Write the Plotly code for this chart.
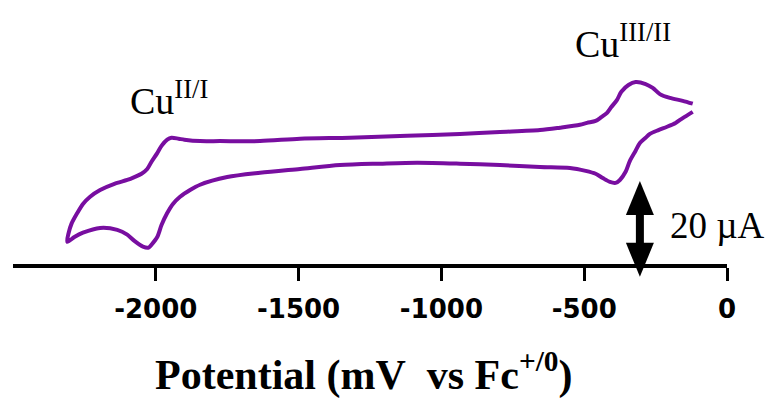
import plotly.graph_objects as go

# ---- data (potential in mV vs Fc+/0, current in µA, arbitrary offset) ----
potential_upper = [-120, -155, -200, -235, -260, -285, -320, -345, -370, -385, -405, -420, -440, -460,
                   -490, -515, -585, -655, -795, -935, -1120, -1320, -1495, -1635, -1775, -1845, -1900,
                   -1920, -1945, -1960, -1980, -1995, -2015, -2030, -2050, -2075, -2100, -2145, -2195,
                   -2230, -2255, -2275, -2295, -2305, -2310]
current_upper = [33.8, 34.4, 35.0, 35.8, 37.1, 37.9, 38.3, 37.7, 36.3, 34.6, 33.1, 31.9, 31.0, 30.2,
                 29.8, 29.4, 28.8, 28.3, 27.9, 27.5, 27.1, 26.7, 26.5, 26.0, 26.0, 26.0, 26.3,
                 26.5, 26.7, 26.3, 25.0, 23.5, 21.7, 20.2, 19.2, 18.5, 17.9, 17.1, 15.8,
                 14.4, 12.9, 11.0, 8.8, 6.9, 5.0]
potential_lower = [-2285, -2255, -2195, -2135, -2100, -2075, -2045, -2025, -2015, -1995, -1980, -1960,
                   -1940, -1915, -1880, -1845, -1750, -1635, -1495, -1355, -1215, -1085, -935, -795,
                   -655, -550, -495, -460, -435, -410, -390, -375, -355, -340, -320, -305, -285, -270,
                   -240, -210, -180, -155, -120]
current_lower = [6.0, 6.9, 7.9, 7.5, 6.5, 5.2, 4.0, 3.8, 4.4, 6.0, 8.5, 11.0,
                 12.9, 14.4, 15.8, 16.9, 18.5, 19.4, 20.2, 21.0, 21.3, 21.5, 21.3, 21.0,
                 20.6, 20.4, 19.8, 19.2, 18.3, 17.5, 17.3, 17.9, 19.6, 21.9, 24.0, 25.6, 26.7, 27.5,
                 28.3, 29.0, 29.8, 30.8, 32.1]

tick_values = [-2000, -1500, -1000, -500, 0]
tick_labels = ["-2000", "-1500", "-1000", "-500", "0"]

couple_labels = ["Cu<sup>II/I</sup>", "Cu<sup>III/II</sup>"]
couple_x = [-2097, -539]
couple_y = [35.0, 46.9]

scale_bar_x = -305
scale_bar_bottom = -2.3
scale_bar_length = 20  # µA
scale_bar_label = "20 µA"

x_range = [-2500, 0]
y_range = [-4, 51.25]

# ---- figure ----
color = "#780EA0"
fig = go.Figure()
fig.add_trace(go.Scatter(
    x=potential_upper + potential_lower,
    y=current_upper + current_lower,
    mode="lines",
    line=dict(color=color, width=4, shape="spline", smoothing=0.8),
    hoverinfo="skip",
))

# scale bar (double arrow)
head_half_w = 49   # mV
head_h = 7.1       # µA
top = scale_bar_bottom + scale_bar_length
bot = scale_bar_bottom
fig.add_shape(type="line", x0=scale_bar_x, x1=scale_bar_x, y0=bot + head_h * 0.9, y1=top - head_h * 0.9,
              xref="x", yref="y", line=dict(color="black", width=8))
fig.add_shape(type="path", xref="x", yref="y", fillcolor="black", line=dict(width=0),
              path=f"M {scale_bar_x} {top} L {scale_bar_x - head_half_w} {top - head_h} "
                   f"L {scale_bar_x + head_half_w} {top - head_h} Z")
fig.add_shape(type="path", xref="x", yref="y", fillcolor="black", line=dict(width=0),
              path=f"M {scale_bar_x} {bot} L {scale_bar_x - head_half_w} {bot + head_h} "
                   f"L {scale_bar_x + head_half_w} {bot + head_h} Z")

serif = "Liberation Serif, Times New Roman, serif"
for txt, xx, yy in zip(couple_labels, couple_x, couple_y):
    fig.add_annotation(x=xx, y=yy, xref="x", yref="y", text=txt, showarrow=False,
                       xanchor="left", yanchor="middle", font=dict(family=serif, size=38, color="black"))

fig.add_annotation(x=-207, y=8.4, xref="x", yref="y", text=scale_bar_label, showarrow=False,
                   xanchor="left", yanchor="middle", font=dict(family=serif, size=37, color="black"))

fig.add_annotation(x=0.4916, y=-0.328, xref="paper", yref="paper",
                   text="Potential (mV\u00a0\u00a0vs Fc<sup>+/0</sup>)", showarrow=False,
                   xanchor="center", yanchor="middle",
                   font=dict(family=serif, size=42, color="black", weight="bold"))

axis_pos = (0 - y_range[0]) / (y_range[1] - y_range[0])
fig.update_layout(
    width=775, height=402,
    margin=dict(l=5, r=56, t=12, b=125),
    paper_bgcolor="white", plot_bgcolor="white",
    showlegend=False,
    xaxis=dict(range=x_range, anchor="free", position=axis_pos,
               showgrid=False, zeroline=False, showline=True, linecolor="black", linewidth=4,
               ticks="outside", ticklen=13, tickwidth=3, tickcolor="black",
               ticklabelstandoff=6,
               tickvals=tick_values, ticktext=tick_labels,
               tickfont=dict(family="DejaVu Sans", size=26, color="black", weight="bold")),
    yaxis=dict(range=y_range, visible=False, showgrid=False, zeroline=False),
)

fig.write_html("out.html")
